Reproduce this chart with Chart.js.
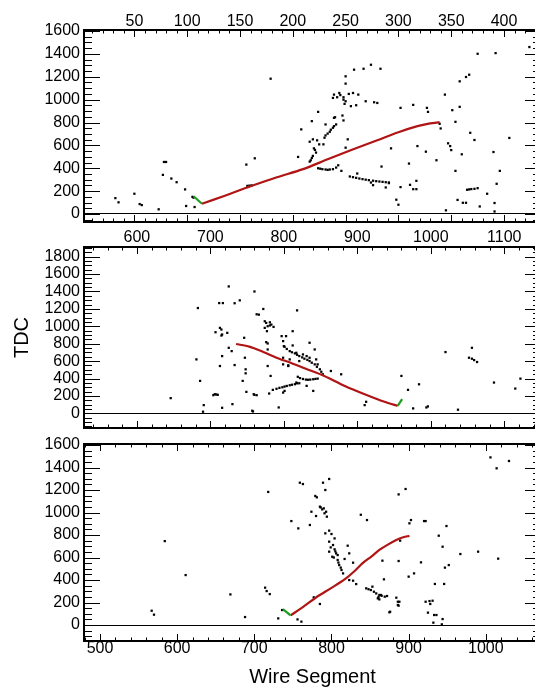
<!DOCTYPE html>
<html>
<head>
<meta charset="utf-8">
<script src="https://cdn.jsdelivr.net/npm/chart.js@4.4.1/dist/chart.umd.min.js"></script>
<style>
  html, body { margin: 0; padding: 0; background: #fff; overflow: hidden; }
  #wrap { position: relative; width: 535px; height: 687px; overflow: hidden; }
  canvas { position: absolute; left: 0; }
</style>
</head>
<body>
<div id="wrap">
  <canvas id="c1" width="545" height="226" style="top:0;width:545px;height:226px"></canvas>
  <canvas id="c2" width="545" height="206" style="top:226px;width:545px;height:206px"></canvas>
  <canvas id="c3" width="545" height="255" style="top:432px;width:545px;height:255px"></canvas>
</div>
<script>
// === DATA ===
// Top panel: x in wire number
var topWireTicks = [50, 100, 150, 200, 250, 300, 350, 400];
var topTdcTicks = [0, 200, 400, 600, 800, 1000, 1200, 1400, 1600];
var topHitWire = [32, 35, 50, 55, 57, 73, 78, 80, 77, 85, 90, 98, 99, 107, 156, 164, 157, 159, 161, 105, 106,
  179, 258, 267, 274, 283, 250, 250, 239, 244, 248, 250, 249, 253, 257, 242, 238, 245, 248, 255, 260, 262, 269, 277, 280,
  224, 218, 231, 239, 240, 247, 248, 208, 241, 239, 238, 236, 235, 233, 231, 230,
  216, 219, 223, 225, 229, 220, 222, 219, 217, 216, 221, 218, 205, 252, 250, 293, 284,
  224, 226, 228, 231, 233, 235, 238, 241, 243, 246,
  254, 257, 260, 263, 266, 269, 272, 276, 279, 282, 285, 288, 291, 261, 274, 276, 288, 298, 300,
  302, 314, 327, 328, 344, 358, 364, 367, 375, 392, 351, 358, 354, 339, 340, 318, 326, 310, 336, 347, 349, 350,
  368, 372, 360, 354, 396, 405, 390, 393, 384, 365, 367, 369, 372, 375, 302, 311, 314, 317, 317, 291,
  356, 361, 364, 377, 391, 391, 345, 424];
var topHitTdc = [139, 102, 177, 87, 78, 41, 455, 455, 342, 310, 278, 215, 70, 61, 432, 487, 246, 248, 250, 150, 143,
  1183, 1262, 1270, 1305, 1270, 1204, 1140, 1044, 1058, 1021, 986, 963, 1050, 1058, 1021, 1015, 1040, 1000, 943, 951, 1044, 986, 977, 971,
  893, 812, 783, 841, 846, 861, 818, 740, 783, 768, 754, 737, 719, 703, 687, 667,
  632, 653, 644, 609, 609, 574, 537, 508, 470, 458, 560, 490, 499, 653, 580, 574, 415,
  400, 396, 392, 389, 386, 389, 392, 406, 426, 377,
  328, 322, 316, 310, 305, 300, 296, 291, 287, 284, 281, 278, 276, 354, 275, 252, 232, 125, 81,
  928, 954, 928, 893, 1044, 1160, 1198, 1218, 1401, 1407, 908, 937, 806, 789, 748, 594, 545, 441, 470, 618, 594, 559,
  710, 647, 522, 377, 377, 665, 542, 264, 177, 212, 215, 218, 220, 226, 235, 255, 217, 217, 290, 270,
  123, 98, 98, 66, 96, 22, 32, 1460];
var topTrackWire = [114, 135, 160, 185, 209, 233, 256, 280, 300, 318, 330, 339];
var topTrackTdc = [90, 158, 243, 322, 390, 478, 562, 645, 715, 768, 792, 803];
var topSeedWire = [106, 114];
var topSeedTdc = [155, 90];

// Middle panel: x in wire segment
var midSegTicks = [600, 700, 800, 900, 1000, 1100];
var midTdcTicks = [0, 200, 400, 600, 800, 1000, 1200, 1400, 1600, 1800];
var midHitSeg = [646, 683, 681, 686, 691, 690, 706, 708, 710, 712, 717, 725, 740, 733, 760, 713, 715, 707, 716, 723,
  725, 729, 716, 713, 733, 747, 748, 748, 744, 730, 716, 758, 749, 759, 763, 760, 772, 763, 766, 774,
  776, 781, 778, 774, 777, 783, 786, 781, 818, 715, 746, 776, 778, 778, 797, 803, 799, 812, 835, 842,
  799, 782, 778, 704, 793, 757, 780, 817, 831, 840, 812, 800,
  801, 804, 808, 811, 815, 818, 821, 825, 828, 832, 835, 838, 842, 845, 849, 851, 853,
  817, 826, 831, 835, 821, 806, 808, 844, 846, 799, 806,
  819, 822, 826, 830, 833, 836, 840, 843, 846, 821,
  785, 790, 794, 798, 801, 804, 808, 811, 815, 818, 801, 799,
  864, 878, 912, 910, 960, 969, 984, 976, 994, 996, 1020, 1037, 1056, 1052, 1056, 1059, 1063, 1086, 1115, 1122];
var midHitTdc = [175, 1210, 620, 373, 95, 19, 220, 217, 213, 1267, 1267, 1458, 1298, 1265, 1400, 982, 963, 932, 906, 925,
  753, 715, 658, 544, 555, 639, 506, 460, 373, 106, 64, 22, 247, 220, 209, 212, 1199, 1138, 1134, 1058,
  1039, 1046, 1001, 982, 944, 1020, 993, 1010, 1183, 894, 868, 818, 803, 734, 887, 887, 830, 944, 811, 734,
  563, 430, 544, 209, 68, 30, 228, 354, 316, 258, 780, 772,
  765, 740, 715, 702, 689, 673, 658, 643, 628, 615, 601, 582, 563, 535, 506, 478, 449,
  696, 677, 658, 639, 601, 544, 620, 620, 563, 639, 552,
  420, 405, 395, 388, 386, 388, 392, 396, 399, 346,
  270, 282, 293, 300, 308, 315, 323, 329, 335, 345, 258, 239,
  487, 449, 133, 95, 430, 270, 334, 57, 68, 80, 704, 42, 753, 639, 628, 612, 590, 354, 285, 399];
var midTrackSeg = [735, 753, 772, 790, 810, 830, 855, 883, 910, 937, 955];
var midTrackTdc = [797, 767, 706, 640, 578, 512, 430, 315, 220, 133, 87];
var midSeedSeg = [955, 961];
var midSeedTdc = [87, 163];

// Bottom panel: x in wire segment
var botSegTicks = [500, 600, 700, 800, 900, 1000];
var botTdcTicks = [0, 200, 400, 600, 800, 1000, 1200, 1400, 1600];
var botHitSeg = [567, 570, 584, 611, 669, 688, 714, 716, 720, 718, 731, 736, 756, 761, 759, 763, 789, 797, 792, 779, 781,
  785, 786, 790, 788, 793, 791, 794, 774, 780, 748, 772, 757,
  797, 800, 804, 797, 792, 802, 804, 797, 806, 808, 801, 808, 809, 810, 812, 813, 815, 799, 805, 803,
  821, 823, 817, 828, 838, 846, 823, 828, 832,
  845, 848, 851, 855, 858, 862, 865, 869, 853, 860, 861,
  785, 777, 868, 866, 887, 884, 886, 886, 889, 916, 900, 907, 887, 896, 903, 901, 920, 922, 876, 922, 925,
  1006, 1014, 1030, 949, 939, 944, 967, 990, 1016, 952, 947, 934, 946, 864, 872, 862, 888, 887, 875, 927, 931, 928,
  933, 936, 944, 932, 943];
var botHitTdc = [127, 92, 746, 444, 272, 71, 332, 302, 275, 1183, 59, 133, 50, 30, 1265, 1253, 1265, 1298, 1200, 1147, 1135,
  1052, 1045, 1037, 1028, 1007, 993, 963, 1007, 969, 924, 889, 859,
  839, 809, 770, 741, 815, 711, 673, 652, 637, 622, 607, 578, 555, 533, 510, 489, 459, 690, 655, 600,
  705, 637, 587, 554, 980, 933, 400, 394, 364,
  326, 318, 311, 296, 281, 267, 260, 252, 341, 237, 250,
  187, 246, 406, 572, 569, 243, 207, 178, 750, 557, 430, 459, 1161, 1209, 933, 904, 924, 924, 118, 207, 110,
  1490, 1393, 1458, 880, 794, 696, 631, 652, 590, 533, 510, 365, 365, 267, 258, 228, 207, 172, 113, 213, 216, 187,
  89, 89, 53, 21, 6];
var botTrackSeg = [747, 765, 780, 800, 817, 830, 840, 852, 862, 873, 884, 893, 901];
var botTrackTdc = [85, 170, 245, 330, 405, 480, 548, 610, 667, 715, 756, 780, 793];
var botSeedSeg = [737, 747];
var botSeedTdc = [142, 85];

// === RENDER ===
var FONT = '"Liberation Sans", Arial, sans-serif';
var RED = '#b01414';
var GREEN = '#1d9e1d';

function pts(xs, ys) {
  return xs.map(function(x, i) { return { x: x, y: ys[i] }; });
}

function fixedTicks(values) {
  return function(scale) { scale.ticks = values.map(function(v) { return { value: v }; }); };
}

function plainLabel(v) { return String(v); }

// IDL-style frame with inward tick marks on all four sides
var frameTicks = {
  id: 'frameTicks',
  afterDraw: function(chart, args, o) {
    var a = chart.chartArea, ctx = chart.ctx;
    var xs = chart.scales.x, ys = chart.scales.y;
    var v, p, len;
    ctx.save();
    ctx.strokeStyle = '#000';
    ctx.lineWidth = 1;
    ctx.beginPath();
    for (v = Math.ceil(xs.min / o.xMinor) * o.xMinor; v <= xs.max; v += o.xMinor) {
      p = Math.round(xs.getPixelForValue(v)) + 0.5;
      len = Math.abs(v / o.xMajor - Math.round(v / o.xMajor)) < 1e-6 ? 7 : 3.5;
      ctx.moveTo(p, a.top); ctx.lineTo(p, a.top + len);
      ctx.moveTo(p, a.bottom); ctx.lineTo(p, a.bottom - len);
    }
    for (v = Math.ceil(ys.min / o.yMinor) * o.yMinor; v <= ys.max; v += o.yMinor) {
      p = Math.round(ys.getPixelForValue(v)) + 0.5;
      len = Math.abs(v / o.yMajor - Math.round(v / o.yMajor)) < 1e-6 ? 16 : 8;
      ctx.moveTo(a.left, p); ctx.lineTo(a.left + len, p);
      ctx.moveTo(a.right, p); ctx.lineTo(a.right - len, p);
    }
    ctx.stroke();
    ctx.lineWidth = 2;
    ctx.strokeRect(a.left, a.top, a.right - a.left, a.bottom - a.top);
    ctx.restore();
  }
};

function makePanel(id, p) {
  var ctx = document.getElementById(id).getContext('2d');
  return new Chart(ctx, {
    type: 'scatter',
    data: {
      datasets: [{
        data: pts(p.seedX, p.seedY), showLine: true, borderColor: GREEN, borderWidth: 2.2,
        pointRadius: 0, fill: false
      }, {
        data: pts(p.trackX, p.trackY), showLine: true, borderColor: RED, borderWidth: 2.2,
        pointRadius: 0, fill: false, tension: 0.3
      }, {
        data: pts(p.hitX, p.hitY), pointStyle: 'rect', pointRadius: 1.6,
        backgroundColor: '#000', borderWidth: 0
      }]
    },
    options: {
      responsive: false, animation: false, devicePixelRatio: 1,
      layout: { padding: p.padding },
      plugins: { legend: { display: false }, tooltip: { enabled: false }, frameTicks: p.frame },
      scales: {
        x: {
          type: 'linear', position: p.xPos, min: p.xMin, max: p.xMax,
          afterBuildTicks: fixedTicks(p.xTicks),
          afterFit: function(s) { s.height = p.xHeight; s.paddingLeft = 0; s.paddingRight = 0; },
          grid: { display: false, drawTicks: false }, border: { display: false },
          ticks: { display: p.xLabels, autoSkip: false, maxRotation: 0, padding: p.xPad, color: '#000',
            callback: plainLabel, font: { family: FONT, size: 16, lineHeight: 1 } },
          title: p.xTitle
        },
        y: {
          type: 'linear', min: p.yMin, max: p.yMax,
          afterBuildTicks: fixedTicks(p.yTicks),
          afterFit: function(s) { s.width = 84; s.paddingTop = 0; s.paddingBottom = 0; },
          grid: {
            drawTicks: false, lineWidth: 1,
            color: function(c) { return c.tick && c.tick.value === 0 ? '#000' : 'rgba(0,0,0,0)'; }
          },
          border: { display: false },
          ticks: { autoSkip: false, padding: 4, color: '#000', callback: plainLabel,
            font: { family: FONT, size: 16, lineHeight: 1 } },
          title: p.yTitle
        }
      }
    },
    plugins: [frameTicks]
  });
}

makePanel('c1', {
  hitX: topHitWire, hitY: topHitTdc, trackX: topTrackWire, trackY: topTrackTdc, seedX: topSeedWire, seedY: topSeedTdc,
  xMin: 2.3, xMax: 435, yMin: -70, yMax: 1609, xTicks: topWireTicks, yTicks: topTdcTicks,
  xPos: 'top', xHeight: 30, xLabels: true, xPad: 0,
  padding: { left: 0, right: 3, top: 0, bottom: 3 },
  frame: { xMinor: 10, xMajor: 50, yMinor: 50, yMajor: 200 },
  xTitle: { display: false }, yTitle: { display: false }
});

makePanel('c2', {
  hitX: midHitSeg, hitY: midHitTdc, trackX: midTrackSeg, trackY: midTrackTdc, seedX: midSeedSeg, seedY: midSeedTdc,
  xMin: 528, xMax: 1150, yMin: -168, yMax: 1911, xTicks: midSegTicks, yTicks: midTdcTicks,
  xPos: 'top', xHeight: 21, xLabels: true, xPad: 1,
  padding: { left: 0, right: 3, top: 0, bottom: 3 },
  frame: { xMinor: 20, xMajor: 100, yMinor: 50, yMajor: 200 },
  xTitle: { display: false },
  yTitle: { display: true, text: 'TDC', color: '#000', padding: { top: 12, bottom: 0 },
    font: { family: FONT, size: 20, lineHeight: 1 } }
});

makePanel('c3', {
  hitX: botHitSeg, hitY: botHitTdc, trackX: botTrackSeg, trackY: botTrackTdc, seedX: botSeedSeg, seedY: botSeedTdc,
  xMin: 479.3, xMax: 1071.5, yMin: -142, yMax: 1609, xTicks: botSegTicks, yTicks: botTdcTicks,
  xPos: 'bottom', xHeight: 46, xLabels: true, xPad: 0,
  padding: { left: 0, right: 3, top: 12, bottom: 0 },
  frame: { xMinor: 20, xMajor: 100, yMinor: 50, yMajor: 200 },
  xTitle: { display: true, text: 'Wire Segment', color: '#000', padding: { top: 0, bottom: 0 },
    font: { family: FONT, size: 20, lineHeight: 1 } },
  yTitle: { display: false }
});
</script>
</body>
</html>
